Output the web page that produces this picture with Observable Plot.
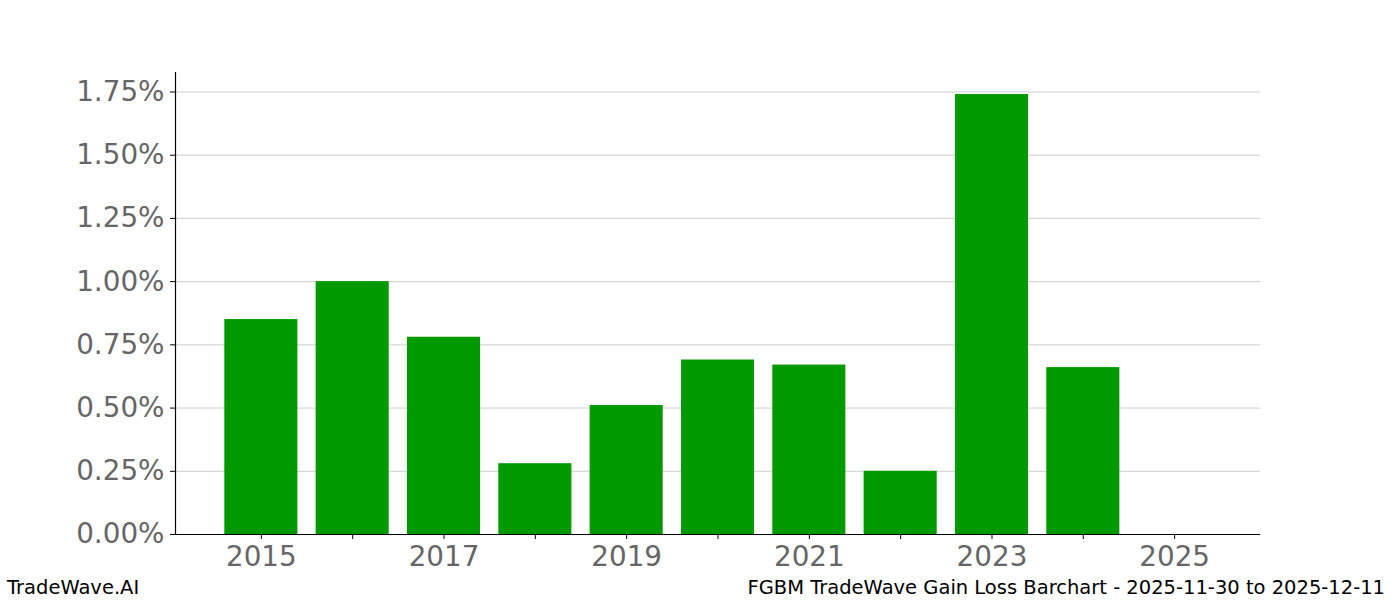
<!DOCTYPE html>
<html>
<head>
<meta charset="utf-8">
<script src="https://cdn.jsdelivr.net/npm/d3@7"></script>
<script src="https://cdn.jsdelivr.net/npm/@observablehq/plot@0.6"></script>
<style>
  html, body { margin: 0; padding: 0; background: #fff; }
  body { width: 1400px; height: 600px; overflow: hidden; font-family: "DejaVu Sans", sans-serif; }
  #chart svg { display: block; }
  #chart [aria-label$="tick label"] { fill: #666; }
  #footer { position: relative; height: 25px; font-size: 19.5px; color: #000; }
  #footer .l { position: absolute; left: 7px; top: 1px; }
  #footer .r { position: absolute; right: 15px; top: 1px; }
</style>
</head>
<body>
<div id="chart"></div>
<div id="footer"><span class="l">TradeWave.AI</span><span class="r">FGBM TradeWave Gain Loss Barchart - 2025-11-30 to 2025-12-11</span></div>
<script>
const years = [2015, 2016, 2017, 2018, 2019, 2020, 2021, 2022, 2023, 2024, 2025];
const gains = [0.85, 1.00, 0.78, 0.28, 0.51, 0.69, 0.67, 0.25, 1.74, 0.66, 0.0];
const yTicks = [0, 0.25, 0.5, 0.75, 1.0, 1.25, 1.5, 1.75];
const xTicks = [2015, 2016, 2017, 2018, 2019, 2020, 2021, 2022, 2023, 2024, 2025];

const data = years.map((y, i) => ({year: y, gain: gains[i]}));
const xDomain = [2014.06, 2025.94];
const yDomain = [0, 1.827];

const chart = Plot.plot({
  width: 1400,
  height: 575,
  marginLeft: 175,
  marginRight: 140,
  marginTop: 72,
  marginBottom: 41,
  style: {fontFamily: "DejaVu Sans, sans-serif", fontSize: "27.8px", background: "#fff"},
  x: {type: "linear", domain: xDomain},
  y: {domain: yDomain},
  marks: [
    Plot.gridY(yTicks, {stroke: "#c0c0c0", strokeOpacity: 1, strokeWidth: 0.8}),
    Plot.rectY(data, {x1: d => d.year - 0.4, x2: d => d.year + 0.4, y1: 0, y2: "gain", fill: "#009900"}),
    Plot.axisY({ticks: yTicks, tickFormat: d => d.toFixed(2) + "%", tickSize: 5, tickPadding: 6, label: null, fontSize: 27.8}),
    Plot.axisX({ticks: xTicks, tickFormat: d => (d % 2 === 1 ? String(d) : ""), tickSize: 5, tickPadding: 7, label: null, fontSize: 27.8}),
    Plot.ruleX([xDomain[0]], {y1: yDomain[0], y2: yDomain[1], stroke: "#000", strokeWidth: 1.2}),
    Plot.ruleY([0], {x1: xDomain[0], x2: xDomain[1], stroke: "#000", strokeWidth: 1.2})
  ]
});
document.getElementById("chart").appendChild(chart);
</script>
</body>
</html>
